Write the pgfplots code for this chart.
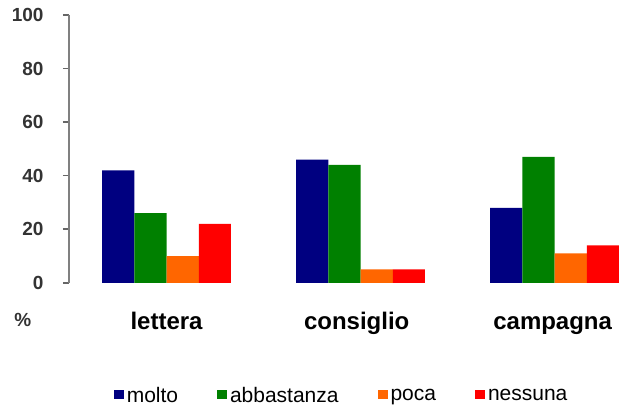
\documentclass[border=0pt]{standalone}
\usepackage{pgfplots}
\pgfplotsset{compat=1.18}
\usepackage{fontspec}
\setmainfont{Liberation Sans}

\definecolor{cmolto}{RGB}{0,0,128}
\definecolor{cabba}{RGB}{0,128,0}
\definecolor{cpoca}{RGB}{255,102,0}
\definecolor{cness}{RGB}{255,0,0}

\begin{document}
\begin{tikzpicture}
\begin{axis}[
	scale only axis,
	width=550pt, height=268pt,
	ybar=0pt,
	bar width=0.166,
	xmin=-0.503, xmax=2.33,
	ymin=0, ymax=100,
	ytick={0,20,...,100},
	axis x line=none,
	axis y line*=left,
	axis line style={black!50, line width=1.6pt, -},
	y tick style={black!60, line width=1.6pt},
	tick align=outside,
	major tick length=6pt,
	yticklabel style={font=\bfseries\fontsize{19}{19}\selectfont, text=black!80, xshift=-16pt},
	/pgf/number format/assume math mode=true,
	legend style={
		at={(0.496,-0.42)}, anchor=center,
		draw=none, fill=none,
		legend columns=4,
		font=\fontsize{21}{21}\selectfont,
		/tikz/every even column/.append style={column sep=37pt},
		/tikz/every odd column/.append style={column sep=1pt},
	},
	legend image code/.code={\fill[#1] (0pt,-4pt) rectangle (10pt,5pt);},
	clip=false,
]
\addplot[fill=cmolto, draw=none] coordinates {(0,42) (1,46) (2,28)};
\addlegendentry{molto}
\addplot[fill=cabba, draw=none] coordinates {(0,26) (1,44) (2,47)};
\addlegendentry{abbastanza}
\addplot[fill=cpoca, draw=none] coordinates {(0,10) (1,5) (2,11)};
\addlegendentry{poca}
\addplot[fill=cness, draw=none] coordinates {(0,22) (1,5) (2,14)};
\addlegendentry{nessuna}

\node[anchor=base, font=\bfseries\fontsize{24}{24}\selectfont] at (axis cs:0,-17.3) {lettera};
\node[anchor=base, font=\bfseries\fontsize{24}{24}\selectfont] at (axis cs:0.98,-17.3) {consiglio};
\node[anchor=base, font=\bfseries\fontsize{24}{24}\selectfont] at (axis cs:1.99,-17.3) {campagna};
\node[font=\bfseries\fontsize{19}{19}\selectfont, text=black!80] at (rel axis cs:-0.084,-0.138) {\%};

\path ([xshift=-69pt,yshift=-123pt]rel axis cs:0,0) rectangle ([yshift=15pt]rel axis cs:1,1);
\end{axis}
\end{tikzpicture}
\end{document}
